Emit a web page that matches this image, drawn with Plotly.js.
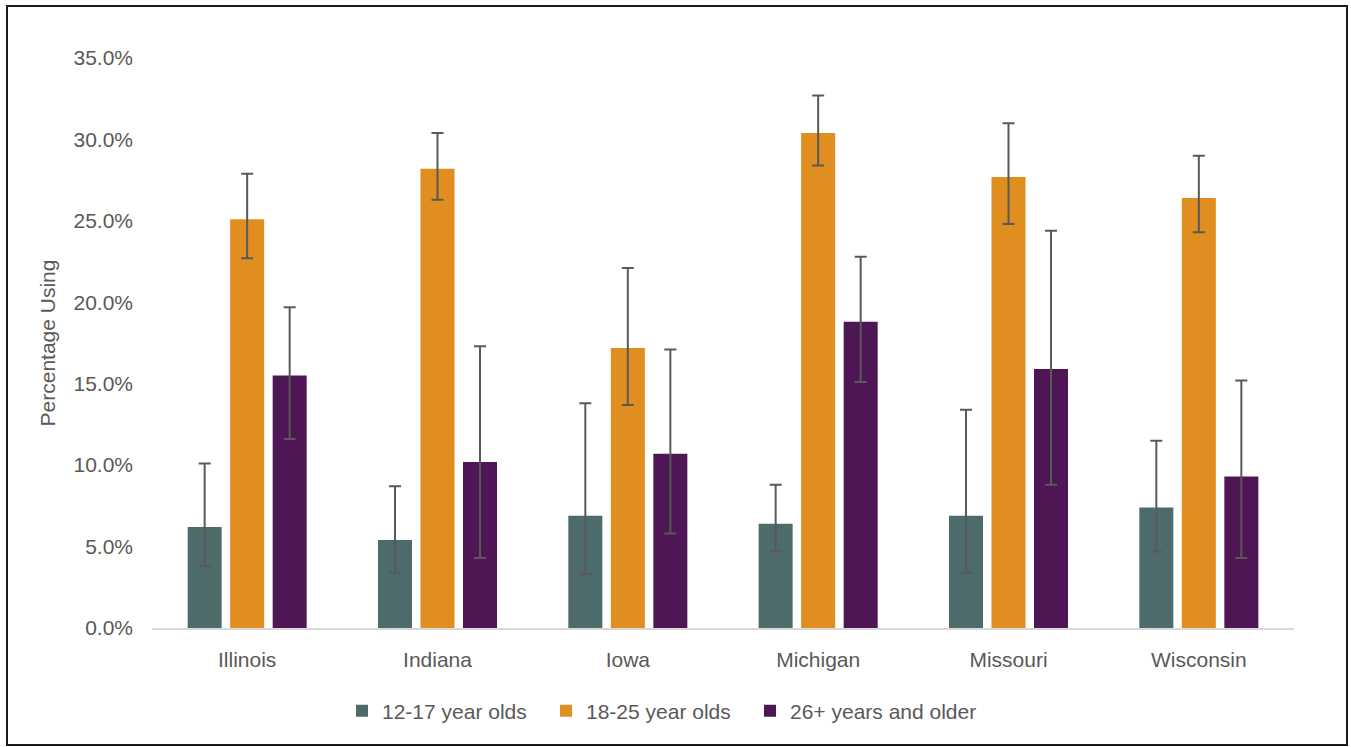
<!DOCTYPE html>
<html>
<head>
<meta charset="utf-8">
<script src="https://cdn.plot.ly/plotly-3.0.1.min.js"></script>
<style>
  html, body { margin: 0; padding: 0; background: #fff; }
  #chart { width: 1351px; height: 747px; }
</style>
</head>
<body>
<div id="chart"></div>
<script>
// Categories
var states = ["Illinois", "Indiana", "Iowa", "Michigan", "Missouri", "Wisconsin"];

// Series names
var seriesNames = ["12-17 year olds", "18-25 year olds", "26+ years and older"];

// Values (percent)
var teen = [6.2, 5.4, 6.9, 6.4, 6.9, 7.4];
var teenUpper = [10.1, 8.7, 13.8, 8.8, 13.4, 11.5];
var teenLower = [3.8, 3.4, 3.3, 4.7, 3.4, 4.7];

var young = [25.1, 28.2, 17.2, 30.4, 27.7, 26.4];
var youngUpper = [27.9, 30.4, 22.1, 32.7, 31.0, 29.0];
var youngLower = [22.7, 26.3, 13.7, 28.4, 24.8, 24.3];

var adult = [15.5, 10.2, 10.7, 18.8, 15.9, 9.3];
var adultUpper = [19.7, 17.3, 17.1, 22.8, 24.4, 15.2];
var adultLower = [11.6, 4.3, 5.8, 15.1, 8.8, 4.3];

// Y tick values and labels
var yTicks = [0, 5, 10, 15, 20, 25, 30, 35];
var yTickLabels = ["0.0%", "5.0%", "10.0%", "15.0%", "20.0%", "25.0%", "30.0%", "35.0%"];

var colors = ["#4d6b6b", "#e08e1f", "#4f1656"];
var errColor = "#595959";
var textColor = "#595959";
var fontFamily = "Liberation Sans, Arial, sans-serif";
var fs = 21;
var legendWidths = [159, 159, 240];

function diff(a, b) { return a.map(function (v, i) { return +(v - b[i]).toFixed(3); }); }

function makeTrace(name, vals, upper, lower, color, lw) {
  return {
    type: "bar",
    name: name,
    x: states,
    y: vals,
    marker: { color: color },
    legendwidth: lw,
    error_y: {
      type: "data",
      symmetric: false,
      array: diff(upper, vals),
      arrayminus: diff(vals, lower),
      color: errColor,
      thickness: 2,
      width: 6
    },
    hoverinfo: "x+y"
  };
}

var data = [
  makeTrace(seriesNames[0], teen, teenUpper, teenLower, colors[0], legendWidths[0]),
  makeTrace(seriesNames[1], young, youngUpper, youngLower, colors[1], legendWidths[1]),
  makeTrace(seriesNames[2], adult, adultUpper, adultLower, colors[2], legendWidths[2])
];

var L = 152, R = 57, T = 58, B = 119;
var plotW = 1351 - L - R, plotH = 747 - T - B;
function px2paperX(px) { return (px - L) / plotW; }
function px2paperY(py) { return (747 - B - py) / plotH; }

var layout = {
  width: 1351,
  height: 747,
  margin: { l: L, r: R, t: T, b: B, pad: 0 },
  paper_bgcolor: "#ffffff",
  plot_bgcolor: "#ffffff",
  font: { family: fontFamily, size: fs, color: textColor },
  barmode: "group",
  bargap: 0.33,
  bargroupgap: 0.2,
  showlegend: true,
  legend: {
    orientation: "h",
    x: px2paperX(342),
    xanchor: "left",
    y: px2paperY(711),
    yanchor: "middle",
    font: { family: fontFamily, size: fs, color: textColor },
    itemclick: false,
    traceorder: "normal"
  },
  xaxis: {
    type: "category",
    showgrid: false,
    zeroline: false,
    showline: true,
    linecolor: "#d9d9d9",
    linewidth: 2,
    ticks: "",
    ticklabelstandoff: 12,
    tickfont: { family: fontFamily, size: fs, color: textColor },
    automargin: false
  },
  yaxis: {
    range: [0, 35],
    tickmode: "array",
    tickvals: yTicks,
    ticktext: yTickLabels,
    showgrid: false,
    zeroline: false,
    showline: false,
    ticks: "",
    ticklabelstandoff: 18,
    tickfont: { family: fontFamily, size: fs, color: textColor },
    title: {
      text: "Percentage Using",
      font: { family: fontFamily, size: fs, color: textColor },
      standoff: 12
    },
    automargin: false
  },
  shapes: [
    {
      type: "rect",
      xref: "paper", yref: "paper",
      x0: px2paperX(7), x1: px2paperX(1347),
      y0: px2paperY(745), y1: px2paperY(6),
      line: { color: "#1a1a1a", width: 2 },
      fillcolor: "rgba(0,0,0,0)",
      layer: "below"
    }
  ]
};

Plotly.newPlot("chart", data, layout, { displayModeBar: false, staticPlot: true });
</script>
</body>
</html>
